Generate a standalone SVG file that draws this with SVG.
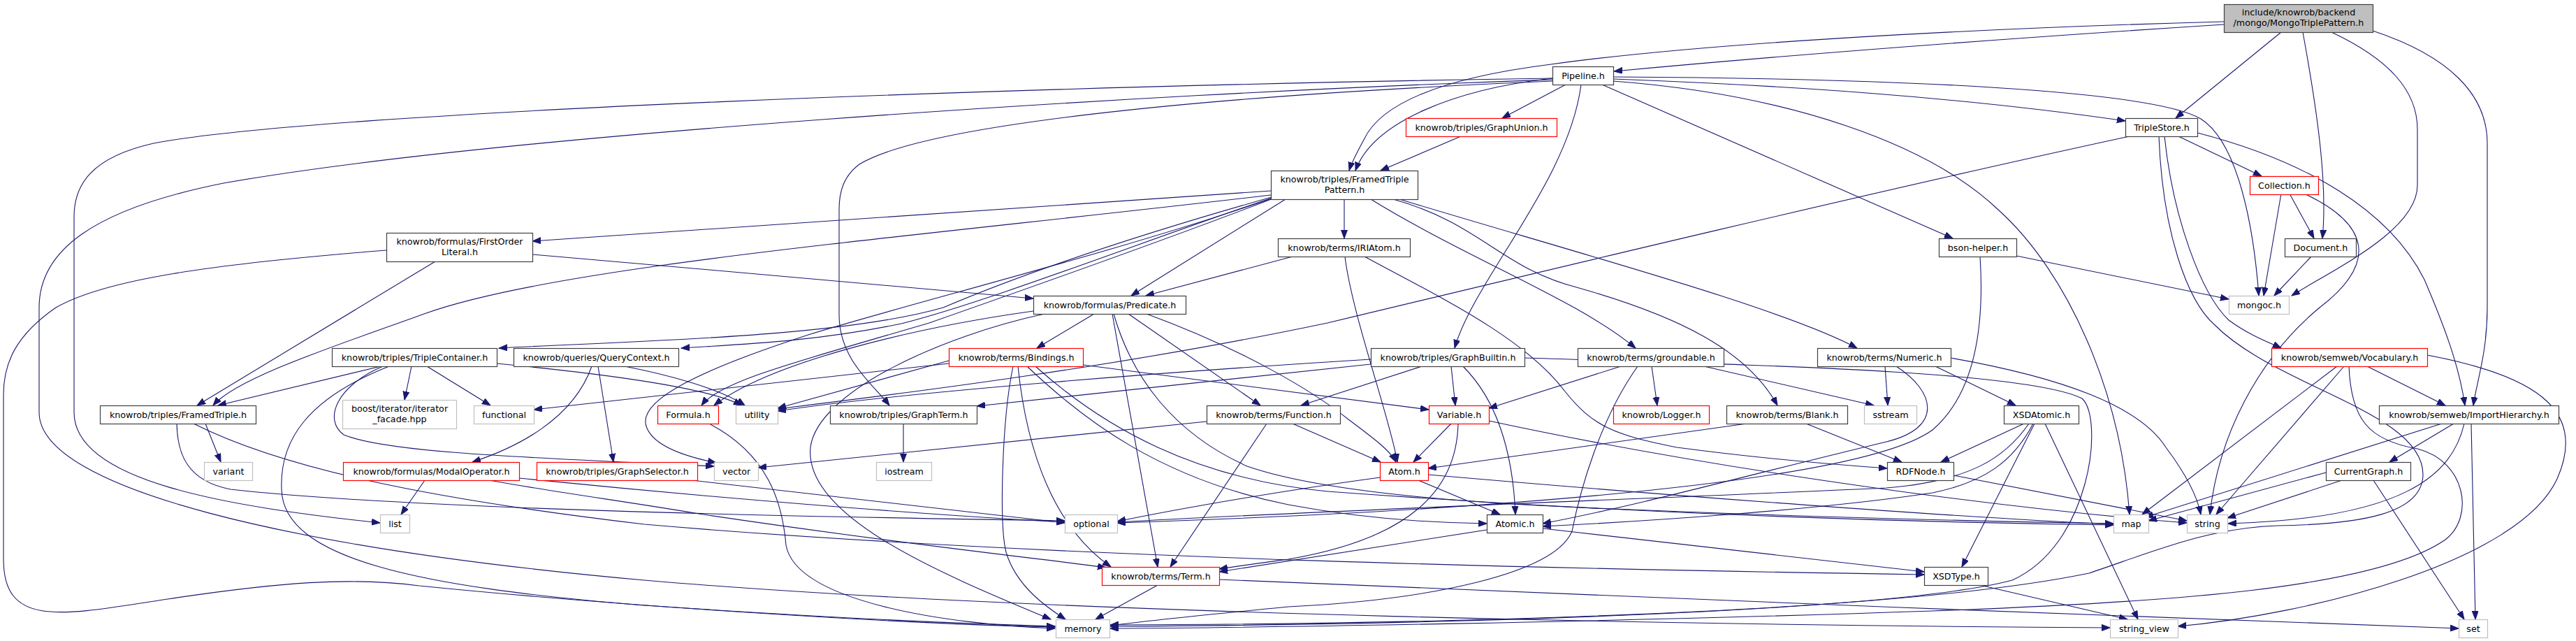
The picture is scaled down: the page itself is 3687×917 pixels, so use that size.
<svg xmlns="http://www.w3.org/2000/svg" width="3687" height="917" viewBox="0 0 3687 917">
<defs>
<marker id="a" markerWidth="13" markerHeight="10" refX="12" refY="4.5" orient="auto" markerUnits="userSpaceOnUse"><path d="M0,0 L12,4.5 L0,9 z" fill="#191970" stroke="#191970" stroke-width="1"/></marker>
<style>
.node rect{fill:#fff;stroke:#404040;stroke-width:1.2}
.ext rect{stroke:#bfbfbf}
.red rect{stroke:#ff0000}
.root rect{fill:#bfbfbf}
.node text{font-family:"DejaVu Sans",sans-serif;font-size:12.7px;text-anchor:middle;fill:#000}
#edges path{fill:none;stroke:#191970;stroke-width:1.1;marker-end:url(#a)}
</style>
</defs>
<rect width="3687" height="917" fill="#fff"/>
<g id="edges">
<path d="M3183,35 C2950,50 2600,75 2310,102"/>
<path d="M3183,31 C2850,40 2450,60 2220,92 C2060,112 1975,150 1952,200 C1940,222 1934,234 1931,244"/>
<path d="M2222,112 C2080,128 1965,175 1940,244"/>
<path d="M2091,195 L1976,244"/>
<path d="M2241,121 L2150,169"/>
<path d="M2309,113 C2550,122 2800,138 3042,173"/>
<path d="M2309,110 C2700,112 3080,128 3150,170 C3205,205 3226,330 3233,423"/>
<path d="M2309,116 C2560,135 2760,205 2860,300 C2960,390 3035,560 3048,736"/>
<path d="M2293,121 L2795,341"/>
<path d="M2263,121 C2245,260 2110,400 2082,498"/>
<path d="M2222,112 C1500,122 450,160 220,205 C130,225 106,265 106,310 L106,590 C106,690 330,725 544,748"/>
<path d="M2222,114 C1600,135 700,195 320,262 C130,300 56,360 56,440 L56,590 C56,700 420,785 922,830 C1500,880 2500,895 3020,898"/>
<path d="M2222,116 C1700,138 1320,180 1230,235 C1207,252 1201,275 1201,300 L1201,450 C1201,515 1250,550 1273,580"/>
<path d="M3118,195 L3237,252"/>
<path d="M3265,46 L3114,169"/>
<path d="M3296,46 C3315,150 3332,260 3324,341"/>
<path d="M3337,46 C3420,85 3460,130 3460,185 L3460,265 C3460,330 3340,385 3280,423"/>
<path d="M3396,44 C3505,80 3560,135 3560,205 L3560,440 C3560,505 3545,545 3540,580"/>
<path d="M3145,190 C3300,230 3420,300 3470,400 C3500,470 3520,525 3528,580"/>
<path d="M3098,195 C3110,310 3150,420 3190,458 C3220,480 3248,490 3265,498"/>
<path d="M3090,195 C3095,330 3130,430 3170,465 C3260,555 3470,590 3468,680 C3466,735 3380,750 3260,752 C3160,755 3080,790 2990,820 C2700,880 2000,893 1589,894"/>
<path d="M3048,195 C2700,270 2200,390 1900,462 C1600,525 1300,562 1113,585"/>
<path d="M3277,277 L3312,341"/>
<path d="M3265,277 L3240,423"/>
<path d="M3298,277 C3390,320 3405,375 3320,440 C3230,515 3175,625 3163,736"/>
<path d="M3308,367 L3255,423"/>
<path d="M2886,366 L3190,428"/>
<path d="M2834,367 C2840,460 2830,560 2766,615 C2650,700 2000,735 1599,748"/>
<path d="M1819,273 L762,345"/>
<path d="M1819,279 C1300,340 800,380 610,448 C480,495 340,540 305,580"/>
<path d="M1820,282 C1650,330 1480,385 1350,440 C1200,483 900,488 714,498"/>
<path d="M1821,283 C1650,340 1420,430 1290,463 C1160,490 1050,493 975,498"/>
<path d="M1822,284 C1650,350 1450,420 1330,462 C1150,515 1030,545 1004,580"/>
<path d="M1840,285 L1619,423"/>
<path d="M1924,285 L1924,341"/>
<path d="M1962,285 C2100,370 2260,430 2341,498"/>
<path d="M1994,285 C2120,320 2150,385 2260,412 C2400,452 2500,500 2544,580"/>
<path d="M2003,285 C2250,360 2550,440 2658,498"/>
<path d="M1820,284 C1600,360 1310,432 1160,478 C1005,528 912,572 925,610 C935,640 990,655 1025,662"/>
<path d="M762,364 C1000,385 1300,410 1479,427"/>
<path d="M623,374 L282,580"/>
<path d="M553,358 C300,378 150,400 80,440 C22,480 5,520 5,565 L5,800 C5,900 90,880 240,857 C400,833 500,825 600,838 C900,868 1300,893 1510,897"/>
<path d="M1850,367 L1640,423"/>
<path d="M1925,367 C1935,450 1990,600 2000,661"/>
<path d="M1953,367 C2050,420 2180,480 2240,560 C2280,610 2310,622 2400,640 C2550,660 2650,666 2701,670"/>
<path d="M1479,445 C1300,470 1100,520 1022,580"/>
<path d="M1495,449 C1350,480 1170,560 1160,640 C1150,740 1350,822 1504,886"/>
<path d="M1566,449 L1484,498"/>
<path d="M1592,449 L1657,811"/>
<path d="M1641,449 C1780,500 1880,560 1930,600 C1970,630 1990,645 1998,661"/>
<path d="M1594,449 C1620,540 1680,620 1785,667 C1880,700 2050,715 2200,723 C2500,738 2850,746 3025,749"/>
<path d="M1615,449 L1804,580"/>
<path d="M1358,520 L764,586"/>
<path d="M1358,516 L1113,584"/>
<path d="M1550,522 L2045,586"/>
<path d="M1457,524 C1470,650 1510,755 1590,811"/>
<path d="M1450,524 C1434,600 1430,750 1440,790 C1455,840 1500,870 1525,886"/>
<path d="M1470,524 C1550,600 1660,685 1844,722 C1950,742 2050,748 2128,749"/>
<path d="M1482,524 C1580,612 1710,685 1900,703 C2400,740 2800,748 3025,751"/>
<path d="M1962,521 L1398,581"/>
<path d="M1962,514 C1700,530 1300,560 1113,588"/>
<path d="M2035,524 L1862,580"/>
<path d="M2077,524 L2083,580"/>
<path d="M2094,524 C2140,570 2165,640 2169,736"/>
<path d="M2182,512 C2500,522 2900,530 2980,570 C3012,600 2992,780 2880,830 C2700,878 2000,894 1589,896"/>
<path d="M2320,524 L2131,584"/>
<path d="M2364,524 L2372,580"/>
<path d="M2439,524 L2682,580"/>
<path d="M2344,524 C2290,600 2262,700 2250,760 C2225,820 2050,858 1844,868 C1700,882 1620,891 1589,895"/>
<path d="M2698,524 L2702,580"/>
<path d="M2770,524 L2885,580"/>
<path d="M2792,512 C2950,540 3062,580 3100,640 C3130,680 3145,710 3150,736"/>
<path d="M2714,524 C2770,560 2782,612 2700,632 C2500,680 2350,722 2208,749"/>
<path d="M3388,524 L3500,580"/>
<path d="M3345,524 L3066,736"/>
<path d="M3355,524 L3172,736"/>
<path d="M3362,524 C3365,600 3390,630 3460,642 C3530,660 3542,740 3500,772 C3400,842 3100,862 2766,874 C2300,890 1800,898 1589,899"/>
<path d="M3474,508 C3645,540 3700,595 3660,685 C3605,805 3300,880 3117,896"/>
<path d="M294,606 L316,661"/>
<path d="M253,606 C254,650 268,688 330,700 C600,730 1200,740 1524,745"/>
<path d="M277,606 C400,668 600,712 922,750 C1500,800 2300,815 2754,822"/>
<path d="M545,524 L312,580"/>
<path d="M589,524 L579,572"/>
<path d="M611,524 L702,580"/>
<path d="M711,520 C900,538 1020,558 1062,580"/>
<path d="M548,524 C482,552 462,600 492,622 C560,650 800,656 1022,667"/>
<path d="M557,524 C440,570 400,630 403,700 C405,800 600,840 922,866 C1200,885 1400,893 1510,896"/>
<path d="M847,524 C820,600 740,640 676,661"/>
<path d="M856,524 L878,661"/>
<path d="M894,524 C950,535 1030,555 1066,580"/>
<path d="M1015,606 C1100,650 1120,720 1125,780 C1140,860 1350,893 1510,899"/>
<path d="M1293,606 L1293,661"/>
<path d="M1727,603 L1085,669"/>
<path d="M1850,606 L1976,661"/>
<path d="M1813,606 L1675,811"/>
<path d="M2077,606 L2023,661"/>
<path d="M2087,606 C2085,700 2020,770 1844,800 C1800,806 1770,810 1745,814"/>
<path d="M2131,602 C2400,660 2800,722 3130,748"/>
<path d="M2500,606 L2044,670"/>
<path d="M2585,606 L2722,661"/>
<path d="M2897,606 L2778,661"/>
<path d="M2910,606 C2882,660 2840,690 2766,705 C2600,730 2350,746 2208,753"/>
<path d="M2904,606 C2870,655 2820,688 2700,698 C2400,712 1900,730 1599,747"/>
<path d="M2912,606 L2808,811"/>
<path d="M2927,606 L3060,886"/>
<path d="M3512,606 L3420,661"/>
<path d="M3495,606 L3070,740"/>
<path d="M3527,606 C3510,680 3440,742 3189,749"/>
<path d="M3537,606 L3543,886"/>
<path d="M3329,676 L3075,745"/>
<path d="M3352,687 L3188,741"/>
<path d="M3397,687 L3527,886"/>
<path d="M608,687 L574,736"/>
<path d="M743,684 C1000,710 1300,735 1524,747"/>
<path d="M700,687 C800,705 900,718 1000,735 C1300,780 1500,800 1583,812"/>
<path d="M990,687 L1524,748"/>
<path d="M2030,687 L2147,736"/>
<path d="M1975,683 C1850,700 1700,725 1599,746"/>
<path d="M2044,679 C2400,710 2800,740 3025,750"/>
<path d="M2796,680 L3130,745"/>
<path d="M2128,758 L1745,818"/>
<path d="M2208,756 L2754,818"/>
<path d="M1657,837 L1568,886"/>
<path d="M1745,829 C2200,850 3000,880 3519,899"/>
<path d="M2834,837 L3045,886"/>
</g>
<g id="n_root" class="node root"><rect x="3183.5" y="6.5" width="213" height="40"/><text x="3290" y="21.5">include/knowrob/backend</text><text x="3290" y="36.5">/mongo/MongoTriplePattern.h</text></g>
<g id="n_pipeline" class="node"><rect x="2222.5" y="95.5" width="87" height="26"/><text x="2266" y="113">Pipeline.h</text></g>
<g id="n_graphunion" class="node red"><rect x="2012.5" y="169.5" width="216" height="26"/><text x="2120.5" y="187">knowrob/triples/GraphUnion.h</text></g>
<g id="n_triplestore" class="node"><rect x="3042.5" y="169.5" width="103" height="26"/><text x="3094" y="187">TripleStore.h</text></g>
<g id="n_ftp" class="node"><rect x="1819.5" y="244.5" width="210" height="41"/><text x="1924.5" y="261">knowrob/triples/FramedTriple</text><text x="1924.5" y="275.5">Pattern.h</text></g>
<g id="n_collection" class="node red"><rect x="3220.5" y="252.5" width="98" height="26"/><text x="3269.5" y="270">Collection.h</text></g>
<g id="n_fol" class="node"><rect x="553.5" y="333.5" width="209" height="41"/><text x="658" y="350">knowrob/formulas/FirstOrder</text><text x="658" y="364.5">Literal.h</text></g>
<g id="n_iriatom" class="node"><rect x="1829.5" y="341.5" width="189" height="26"/><text x="1924" y="359">knowrob/terms/IRIAtom.h</text></g>
<g id="n_bson" class="node"><rect x="2775.5" y="341.5" width="111" height="26"/><text x="2831" y="359">bson-helper.h</text></g>
<g id="n_document" class="node"><rect x="3270.5" y="341.5" width="102" height="26"/><text x="3321.5" y="359">Document.h</text></g>
<g id="n_predicate" class="node"><rect x="1479.5" y="423.5" width="218" height="26"/><text x="1588.5" y="441">knowrob/formulas/Predicate.h</text></g>
<g id="n_mongoc" class="node ext"><rect x="3190.5" y="423.5" width="86" height="26"/><text x="3233.5" y="441">mongoc.h</text></g>
<g id="n_triplecontainer" class="node"><rect x="475.5" y="498.5" width="236" height="26"/><text x="593.5" y="516">knowrob/triples/TripleContainer.h</text></g>
<g id="n_querycontext" class="node"><rect x="735.5" y="498.5" width="236" height="26"/><text x="853.5" y="516">knowrob/queries/QueryContext.h</text></g>
<g id="n_bindings" class="node red"><rect x="1358.5" y="498.5" width="192" height="26"/><text x="1454.5" y="516">knowrob/terms/Bindings.h</text></g>
<g id="n_graphbuiltin" class="node"><rect x="1962.5" y="498.5" width="220" height="26"/><text x="2072.5" y="516">knowrob/triples/GraphBuiltin.h</text></g>
<g id="n_groundable" class="node"><rect x="2258.5" y="498.5" width="209" height="26"/><text x="2363" y="516">knowrob/terms/groundable.h</text></g>
<g id="n_numeric" class="node"><rect x="2601.5" y="498.5" width="191" height="26"/><text x="2697" y="516">knowrob/terms/Numeric.h</text></g>
<g id="n_vocabulary" class="node red"><rect x="3251.5" y="498.5" width="223" height="26"/><text x="3363" y="516">knowrob/semweb/Vocabulary.h</text></g>
<g id="n_framedtriple" class="node"><rect x="143.5" y="580.5" width="223" height="26"/><text x="255" y="598">knowrob/triples/FramedTriple.h</text></g>
<g id="n_boost" class="node ext"><rect x="490.5" y="572.5" width="163" height="41"/><text x="572" y="589">boost/iterator/iterator</text><text x="572" y="603.5">_facade.hpp</text></g>
<g id="n_functional" class="node ext"><rect x="678.5" y="580.5" width="86" height="26"/><text x="721.5" y="598">functional</text></g>
<g id="n_formula" class="node red"><rect x="941.5" y="580.5" width="87" height="26"/><text x="985" y="598">Formula.h</text></g>
<g id="n_utility" class="node ext"><rect x="1053.5" y="580.5" width="60" height="26"/><text x="1083.5" y="598">utility</text></g>
<g id="n_graphterm" class="node"><rect x="1188.5" y="580.5" width="210" height="26"/><text x="1293.5" y="598">knowrob/triples/GraphTerm.h</text></g>
<g id="n_function" class="node"><rect x="1727.5" y="580.5" width="191" height="26"/><text x="1823" y="598">knowrob/terms/Function.h</text></g>
<g id="n_variable" class="node red"><rect x="2045.5" y="580.5" width="86" height="26"/><text x="2088.5" y="598">Variable.h</text></g>
<g id="n_logger" class="node red"><rect x="2309.5" y="580.5" width="137" height="26"/><text x="2378" y="598">knowrob/Logger.h</text></g>
<g id="n_blank" class="node"><rect x="2471.5" y="580.5" width="173" height="26"/><text x="2558" y="598">knowrob/terms/Blank.h</text></g>
<g id="n_sstream" class="node ext"><rect x="2668.5" y="580.5" width="75" height="26"/><text x="2706" y="598">sstream</text></g>
<g id="n_xsdatomic" class="node"><rect x="2868.5" y="580.5" width="107" height="26"/><text x="2922" y="598">XSDAtomic.h</text></g>
<g id="n_importhierarchy" class="node"><rect x="3405.5" y="580.5" width="257" height="26"/><text x="3534" y="598">knowrob/semweb/ImportHierarchy.h</text></g>
<g id="n_variant" class="node ext"><rect x="292.5" y="661.5" width="69" height="26"/><text x="327" y="679">variant</text></g>
<g id="n_modaloperator" class="node red"><rect x="491.5" y="661.5" width="252" height="26"/><text x="617.5" y="679">knowrob/formulas/ModalOperator.h</text></g>
<g id="n_graphselector" class="node red"><rect x="768.5" y="661.5" width="230" height="26"/><text x="883.5" y="679">knowrob/triples/GraphSelector.h</text></g>
<g id="n_vector" class="node ext"><rect x="1022.5" y="661.5" width="63" height="26"/><text x="1054" y="679">vector</text></g>
<g id="n_iostream" class="node ext"><rect x="1254.5" y="661.5" width="79" height="26"/><text x="1294" y="679">iostream</text></g>
<g id="n_atom" class="node red"><rect x="1975.5" y="661.5" width="69" height="26"/><text x="2010" y="679">Atom.h</text></g>
<g id="n_rdfnode" class="node"><rect x="2701.5" y="661.5" width="95" height="26"/><text x="2749" y="679">RDFNode.h</text></g>
<g id="n_currentgraph" class="node"><rect x="3329.5" y="661.5" width="121" height="26"/><text x="3390" y="679">CurrentGraph.h</text></g>
<g id="n_list" class="node ext"><rect x="544.5" y="736.5" width="42" height="26"/><text x="565.5" y="754">list</text></g>
<g id="n_optional" class="node ext"><rect x="1524.5" y="736.5" width="75" height="26"/><text x="1562" y="754">optional</text></g>
<g id="n_atomic" class="node"><rect x="2128.5" y="736.5" width="80" height="26"/><text x="2168.5" y="754">Atomic.h</text></g>
<g id="n_map" class="node ext"><rect x="3025.5" y="736.5" width="50" height="26"/><text x="3050.5" y="754">map</text></g>
<g id="n_string" class="node ext"><rect x="3130.5" y="736.5" width="58" height="26"/><text x="3159.5" y="754">string</text></g>
<g id="n_term" class="node red"><rect x="1577.5" y="811.5" width="168" height="26"/><text x="1661.5" y="829">knowrob/terms/Term.h</text></g>
<g id="n_xsdtype" class="node"><rect x="2754.5" y="811.5" width="91" height="26"/><text x="2800" y="829">XSDType.h</text></g>
<g id="n_memory" class="node ext"><rect x="1511.5" y="886.5" width="77" height="26"/><text x="1550" y="904">memory</text></g>
<g id="n_string_view" class="node ext"><rect x="3020.5" y="886.5" width="97" height="26"/><text x="3069" y="904">string_view</text></g>
<g id="n_set" class="node ext"><rect x="3519.5" y="886.5" width="41" height="26"/><text x="3540" y="904">set</text></g>
</svg>
